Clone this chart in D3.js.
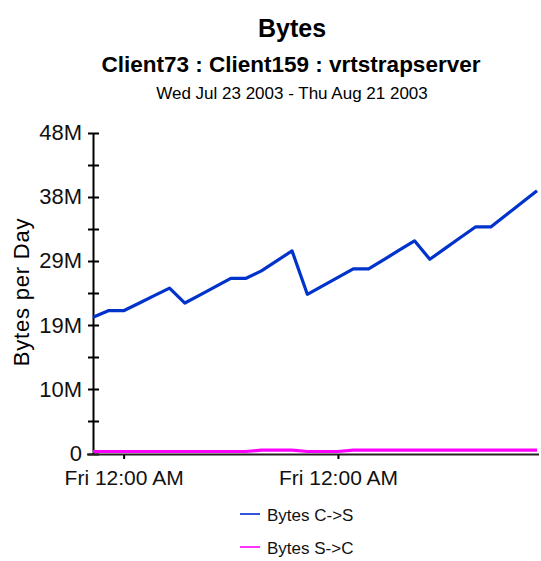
<!DOCTYPE html>
<html>
<head>
<meta charset="utf-8">
<script src="https://cdn.jsdelivr.net/npm/d3@7"></script>
<style>
  html, body { margin: 0; padding: 0; background: #fff; }
  svg { display: block; font-family: 'Liberation Sans', Arial, sans-serif; }
</style>
</head>
<body>
<div id="chart"></div>
<script>
// daily samples, Wed Jul 23 2003 .. Thu Aug 21 2003
const startDate = new Date(2003, 6, 23);
const endDate = new Date(2003, 7, 21);
const bytesCtoS = [
  20.37, 21.35, 21.35, 22.47, 23.6, 24.72, 22.5, 23.73, 24.96, 26.2,
  26.2, 27.3, 28.8, 30.3, 23.8, 25.06, 26.33, 27.6, 27.6, 29.0,
  30.4, 31.8, 29.04, 30.67, 32.3, 33.9, 33.9, 35.7, 37.5, 39.3
]; // millions of bytes
const bytesStoC = [
  0.3, 0.3, 0.3, 0.3, 0.3, 0.3, 0.3, 0.3, 0.3, 0.3,
  0.3, 0.5, 0.5, 0.5, 0.3, 0.3, 0.3, 0.5, 0.5, 0.5,
  0.5, 0.5, 0.5, 0.5, 0.5, 0.5, 0.5, 0.5, 0.5, 0.5
];
const yTicks = [0, 9.6e6, 19.2e6, 28.8e6, 38.4e6, 48e6];
const xTicks = [new Date(2003, 6, 25), new Date(2003, 7, 8)];
const seriesNames = ['Bytes C->S', 'Bytes S->C'];
const seriesColors = ['#0033cc', '#ff00ff'];
const legendColors = ['#3355dd', '#ff33ff'];

const width = 541, height = 561;
const svg = d3.select('#chart').append('svg')
  .attr('width', width).attr('height', height);

const x = d3.scaleTime().domain([startDate, endDate]).range([93, 537]);
const y = d3.scaleLinear().domain([0, 48e6]).range([453.5, 132.5]);

// titles
svg.append('text').attr('x', 292).attr('y', 37).attr('text-anchor', 'middle')
  .attr('font-size', 25).attr('font-weight', 'bold').text('Bytes');
svg.append('text').attr('x', 291).attr('y', 72).attr('text-anchor', 'middle')
  .attr('font-size', 22.5).attr('font-weight', 'bold')
  .text('Client73 : Client159 : vrtstrapserver');
svg.append('text').attr('x', 292).attr('y', 99).attr('text-anchor', 'middle')
  .attr('font-size', 17).text('Wed Jul 23 2003 - Thu Aug 21 2003');

// y axis
const fmt = (d) => (d === 0 ? '0' : Math.round(d / 1e6) + 'M');
const yAxis = svg.append('g').attr('transform', 'translate(93,0)')
  .call(d3.axisLeft(y).tickValues(yTicks).tickFormat(fmt).tickSize(0).tickPadding(11));
yAxis.select('.domain').attr('stroke', '#000').attr('stroke-width', 2);
yAxis.selectAll('text').attr('font-size', 22).attr('font-family', null).attr('fill', '#111');

const minor = d3.range(0, 48e6 + 1, 4.8e6);
svg.append('g').selectAll('line').data(minor).join('line')
  .attr('x1', 88).attr('x2', 99)
  .attr('y1', (d) => Math.round(y(d)) + 0.5).attr('y2', (d) => Math.round(y(d)) + 0.5)
  .attr('stroke', '#000').attr('stroke-width', 2);

// x axis
svg.append('line').attr('x1', 87).attr('x2', 539)
  .attr('y1', 454.5).attr('y2', 454.5).attr('stroke', '#222').attr('stroke-width', 2);
const xAxis = svg.append('g').attr('transform', 'translate(0,455)')
  .call(d3.axisBottom(x).tickValues(xTicks).tickFormat(() => 'Fri 12:00 AM')
    .tickSize(4).tickPadding(11));
xAxis.select('.domain').remove();
xAxis.selectAll('line').attr('stroke', '#000').attr('stroke-width', 2);
xAxis.selectAll('text').attr('font-size', 21).attr('font-family', null).attr('fill', '#111');

// y label
svg.append('text').attr('transform', 'translate(29,292) rotate(-90)')
  .attr('text-anchor', 'middle').attr('font-size', 22).attr('letter-spacing', 0.8)
  .text('Bytes per Day');

// lines
const days = d3.range(bytesCtoS.length).map((i) => d3.timeDay.offset(startDate, i));
const line = d3.line().x((d, i) => x(days[i])).y((d) => y(d * 1e6));
[bytesStoC, bytesCtoS].forEach((s, k) => {
  svg.append('path').datum(s).attr('d', line).attr('fill', 'none')
    .attr('stroke', seriesColors[1 - k]).attr('stroke-width', 3.2)
    .attr('stroke-linejoin', 'round');
});

// legend
const legend = svg.append('g').selectAll('g').data(seriesNames).join('g')
  .attr('transform', (d, i) => `translate(240,${514 + i * 33})`);
legend.append('line').attr('x1', 0).attr('x2', 20).attr('y1', 0).attr('y2', 0)
  .attr('stroke', (d, i) => legendColors[i]).attr('stroke-width', 2);
legend.append('text').attr('x', 27).attr('y', 7).attr('font-size', 17)
  .attr('fill', '#111').text((d) => d);
</script>
</body>
</html>
